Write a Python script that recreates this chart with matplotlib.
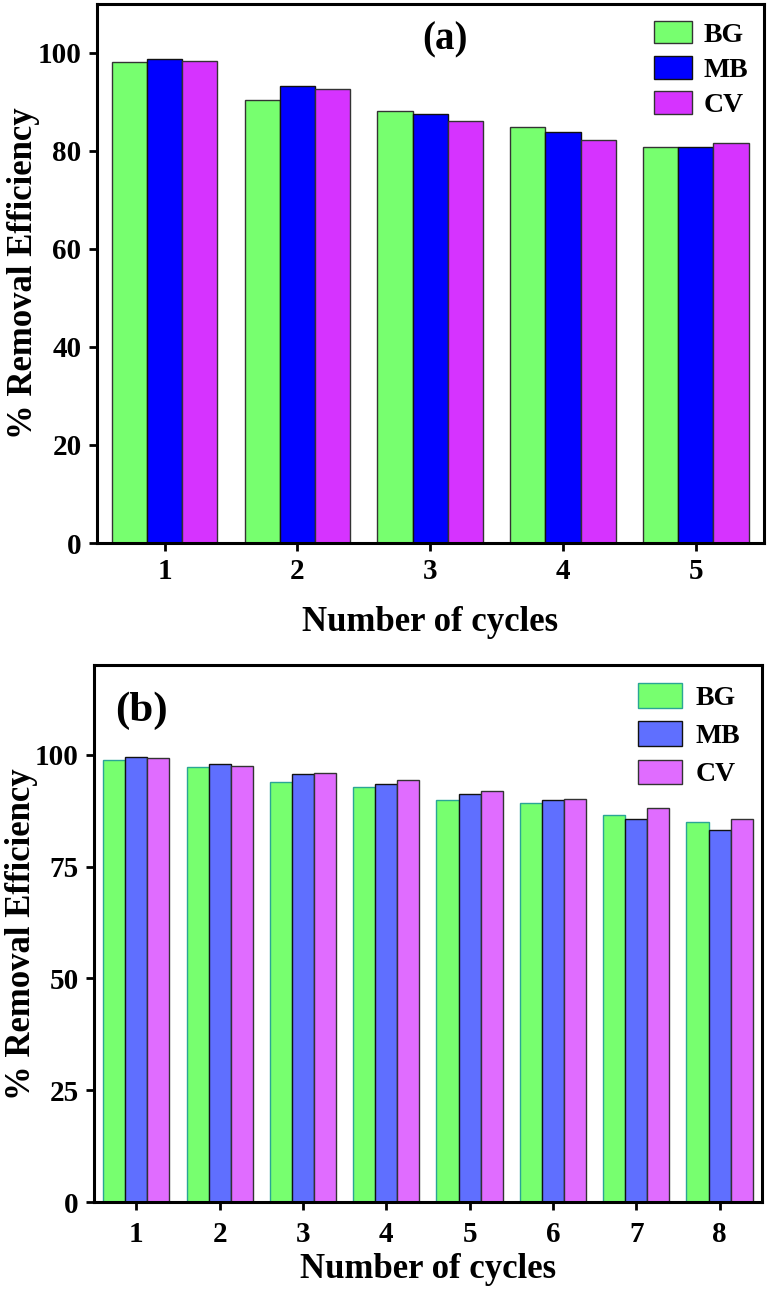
import numpy as np
import matplotlib
matplotlib.use('Agg')
import matplotlib.pyplot as plt

plt.rcParams['font.family'] = 'Liberation Serif'
plt.rcParams['font.weight'] = 'bold'

# data
dyes = ['BG', 'MB', 'CV']

cycles_a = [1, 2, 3, 4, 5]
bg_a = [98.2, 90.4, 88.1, 84.9, 80.7]
mb_a = [98.8, 93.3, 87.5, 83.9, 80.7]
cv_a = [98.4, 92.7, 86.2, 82.2, 81.7]

cycles_b = [1, 2, 3, 4, 5, 6, 7, 8]
bg_b = [98.9, 97.2, 94.0, 92.8, 90.0, 89.2, 86.6, 84.9]
mb_b = [99.5, 98.0, 95.7, 93.4, 91.2, 90.0, 85.7, 83.2]
cv_b = [99.3, 97.5, 96.0, 94.3, 92.0, 90.1, 88.1, 85.7]

cols_a = ['#77ff6f', '#0000ff', '#d633ff']
edge_a = ['#333333', '#111111', '#333333']
cols_b = ['#77ff6f', '#5f6fff', '#e06cff']
edge_b = ['#2aa595', '#111111', '#333333']

fig = plt.figure(figsize=(7.69, 12.96), dpi=100)
ax1 = fig.add_axes([0.126, 0.581, 0.867, 0.416])
ax2 = fig.add_axes([0.122, 0.0725, 0.869, 0.414])

w = 0.265


def draw(ax, x, series, cols, edges, ylim, yticks):
    x = np.array(x)
    for i, (vals, c, e) in enumerate(zip(series, cols, edges)):
        ax.bar(x + (i - 1) * w, vals, w, color=c, edgecolor=e, linewidth=1.0, label=dyes[i])
    ax.set_xlim(x[0] - 0.51, x[-1] + 0.51)
    ax.set_ylim(*ylim)
    ax.set_xticks(x)
    ax.set_yticks(yticks)
    ax.tick_params(direction='out', length=6, width=2, labelsize=21, pad=5)
    for sp in ax.spines.values():
        sp.set_linewidth(2.2)
    ax.set_xlabel('Number of cycles', fontsize=25, fontweight='bold')
    ax.set_ylabel('% Removal Efficiency', fontsize=25, fontweight='bold')


draw(ax1, cycles_a, [bg_a, mb_a, cv_a], cols_a, edge_a, (0, 110), [0, 20, 40, 60, 80, 100])
draw(ax2, cycles_b, [bg_b, mb_b, cv_b], cols_b, edge_b, (0, 120), [0, 25, 50, 75, 100])
ax2.tick_params(axis='x', pad=8)

ax1.text(0.522, 0.933, '(a)', transform=ax1.transAxes, fontsize=28, fontweight='bold',
         ha='center', va='center')
ax2.text(0.072, 0.915, '(b)', transform=ax2.transAxes, fontsize=31, fontweight='bold',
         ha='center', va='center')

ax1.legend(loc='upper left', bbox_to_anchor=(0.836, 0.968), frameon=False, fontsize=20,
           handlelength=1.37, handleheight=0.86, handletextpad=0.4, labelspacing=0.3,
           borderpad=0, borderaxespad=0)
ax2.legend(loc='upper left', bbox_to_anchor=(0.815, 0.967), frameon=False, fontsize=20,
           handlelength=1.55, handleheight=0.97, handletextpad=0.5, labelspacing=0.38,
           borderpad=0, borderaxespad=0)

ax1.yaxis.set_label_coords(-0.085, 0.5)
ax2.yaxis.set_label_coords(-0.084, 0.5)
ax1.xaxis.labelpad = 15
ax2.xaxis.labelpad = 3

fig.savefig('out.png', dpi=100)
